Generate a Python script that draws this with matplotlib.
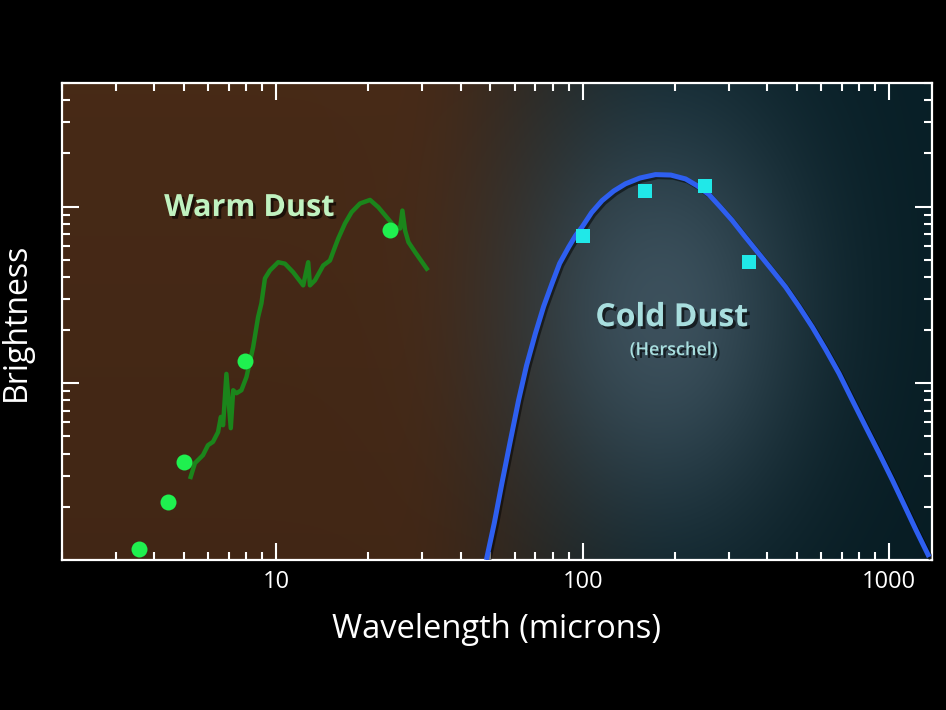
import numpy as np
import matplotlib
matplotlib.use("Agg")
import matplotlib.pyplot as plt
import matplotlib.patheffects as pe
from matplotlib.ticker import LogLocator, FixedLocator, NullFormatter

plt.rcParams['font.family'] = ['Open Sans', 'DejaVu Sans']

# warm dust spectrum (microns, brightness)
warm_wl = [5.26, 5.43, 5.77, 5.99, 6.22, 6.46, 6.60, 6.71, 6.88, 7.11, 7.24, 7.42,
           7.70, 8.00, 8.41, 8.73, 8.95, 9.19, 9.54, 10.15, 10.68, 11.36, 12.25,
           12.72, 12.89, 13.38, 14.24, 14.98, 15.55, 15.94, 16.77, 17.62, 18.77,
           20.24, 21.54, 22.94, 24.43, 25.37, 25.81, 26.34, 27.01, 28.40, 30.99]
warm_flux = [2.95, 3.53, 3.92, 4.46, 4.66, 5.29, 6.45, 5.79, 11.3, 5.57, 9.13, 8.78,
             9.13, 10.85, 16.0, 23.7, 28.3, 39.2, 43.5, 48.4, 47.5, 42.5, 35.8,
             48.4, 35.8, 38.2, 46.4, 49.5, 58.9, 65.9, 80.2, 92.9, 104.0,
             109.0, 99.1, 87.0, 76.4, 75.1, 94.9, 73.2, 62.9, 55.2, 44.5]

# warm dust photometry
warm_pts_wl = [3.56, 4.44, 5.0, 7.92, 23.6]
warm_pts_flux = [1.15, 2.13, 3.58, 13.3, 74.1]

# cold dust fit curve
cold_wl = [48.5, 51.5, 54.5, 58.0, 61.8, 65.6, 70.1, 74.6, 79.4, 84.1, 90.0, 94.9,
           99.5, 107.0, 115.7, 126.3, 137.9, 153.6, 172.9, 193.9, 216.6, 235.8,
           258.2, 280.4, 307.6, 338.3, 376.0, 414.6, 459.6, 507.9, 561.6, 621.0,
           686.6, 757.0, 839.0, 927.5, 1025.0, 1119.5, 1223.0, 1351.0]
cold_flux = [1.0, 1.62, 2.71, 4.66, 8.02, 12.6, 19.1, 27.2, 36.6, 47.6, 58.9, 68.6,
             76.4, 92.5, 108.0, 122.4, 134.4, 144.9, 151.6, 150.7, 143.3, 131.4,
             116.9, 100.0, 83.4, 67.7, 54.0, 43.8, 35.0, 27.2, 20.8, 15.5,
             11.35, 8.07, 5.66, 4.02, 2.83, 2.05, 1.48, 1.04]

# Herschel photometry
cold_pts_wl = [100, 160, 250, 350]
cold_pts_flux = [67.7, 122.0, 130.0, 48.3]

fig = plt.figure(figsize=(9.46, 7.10), dpi=100, facecolor='black')
ax = fig.add_axes([0.0655, 0.2113, 0.9197, 0.6718])
ax.set_xscale('log')
ax.set_yscale('log')
ax.set_xlim(2, 1380)
ax.set_ylim(1, 500)

# background: brown to dark teal, with a glow behind the cold dust
nx, ny = 400, 300
u = np.linspace(0, 1, nx)[None, :]
v = np.linspace(0, 1, ny)[:, None]
brown = np.array([0.28, 0.165, 0.09])
teal = np.array([0.03, 0.12, 0.15])
t = np.clip((u - 0.38) / 0.35, 0, 1)
t = t * t * (3 - 2 * t)
bg = brown[None, None, :] * (1 - t[..., None]) + teal[None, None, :] * t[..., None]
bg = np.broadcast_to(bg, (ny, nx, 3)).copy()
bg *= (0.92 + 0.08 * v)[..., None]
d = np.sqrt(((u - 0.69) / 0.2) ** 2 + ((v - 0.52) / 0.55) ** 2)
glow = np.exp(-d ** 2 * 1.4)
glow_col = np.array([0.27, 0.35, 0.40])
bg = bg * (1 - 0.85 * glow[..., None]) + glow_col[None, None, :] * 0.85 * glow[..., None]
ax.imshow(bg, extent=[0, 1, 0, 1], transform=ax.transAxes, origin='lower',
          aspect='auto', zorder=0, interpolation='bilinear')

shadow = [pe.SimpleLineShadow(offset=(1.5, -1.5), shadow_color='black', alpha=0.5), pe.Normal()]
ax.plot(warm_wl, warm_flux, color='#1b851b', lw=3.2, solid_joinstyle='round', zorder=3)
ax.plot(cold_wl, cold_flux, color='#2e5ff0', lw=3.6, zorder=3, path_effects=shadow,
        solid_capstyle='butt', solid_joinstyle='round')
ax.plot(warm_pts_wl, warm_pts_flux, 'o', color='#1ff04f', ms=11.5, mew=0, zorder=4,
        clip_on=False)
ax.plot(cold_pts_wl, cold_pts_flux, 's', color='#20e8e8', ms=9.5, mew=0, zorder=4)

tshadow = [pe.withSimplePatchShadow(offset=(2, -2), shadow_rgbFace='black', alpha=0.6)]
ax.text(0.215, 0.738, 'Warm Dust', transform=ax.transAxes, color='#c0f2c0',
        fontsize=22, fontweight='bold', ha='center', va='center', path_effects=tshadow)
ax.text(0.701, 0.508, 'Cold Dust', transform=ax.transAxes, color='#a8dede',
        fontsize=23, fontweight='bold', ha='center', va='center', path_effects=tshadow)
ax.text(0.703, 0.440, '(Herschel)', transform=ax.transAxes, color='#a8dede',
        fontsize=13, fontweight='semibold', ha='center', va='center', path_effects=tshadow)

for s in ax.spines.values():
    s.set_color('white')
    s.set_linewidth(1.6)

ax.xaxis.set_major_locator(FixedLocator([10, 100, 1000]))
ax.xaxis.set_minor_locator(LogLocator(base=10, subs=np.arange(2, 10)))
ax.yaxis.set_major_locator(FixedLocator([10, 100]))
ax.yaxis.set_minor_locator(LogLocator(base=10, subs=np.arange(2, 10)))
ax.xaxis.set_minor_formatter(NullFormatter())
ax.yaxis.set_minor_formatter(NullFormatter())
ax.set_xticklabels(['10', '100', '1000'])
ax.set_yticklabels([])
ax.tick_params(which='both', direction='in', colors='white', top=True, right=True,
               width=1.5, labelsize=17, labelcolor='white')
ax.tick_params(which='major', length=12, pad=7)
ax.tick_params(which='minor', length=6)

ax.set_xlabel('Wavelength (microns)', color='white', fontsize=23.5, labelpad=14)
ax.set_ylabel('Brightness', color='white', fontsize=23, labelpad=14)

fig.savefig('out.png', dpi=100, facecolor='black')
